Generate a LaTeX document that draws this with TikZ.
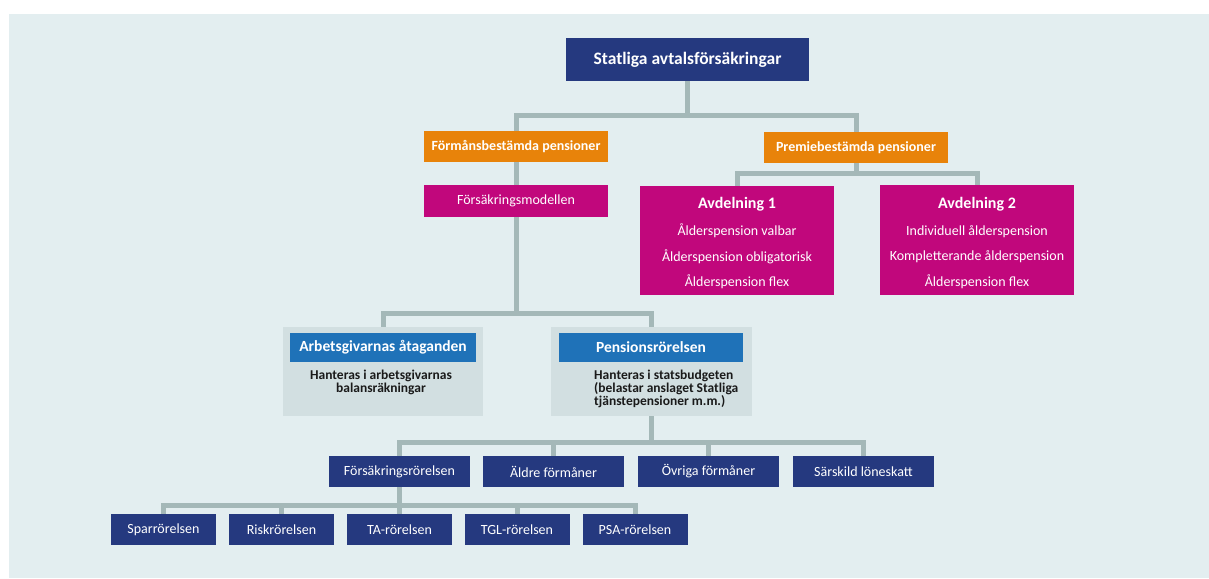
\documentclass[tikz,border=0pt]{standalone}
\usepackage{fontspec}
\setmainfont{Carlito}
\definecolor{cbg}{HTML}{E3EEF0}
\definecolor{cnavy}{HTML}{25397F}
\definecolor{corange}{HTML}{E8830A}
\definecolor{cmag}{HTML}{C1077C}
\definecolor{cblue}{HTML}{1F72B8}
\definecolor{cgray}{HTML}{D2DFE1}
\definecolor{cconn}{HTML}{A4B8B8}
\definecolor{ctext}{HTML}{1A1A1A}
\pgfdeclarelayer{bgl}
\pgfdeclarelayer{lines}
\pgfsetlayers{bgl,lines,main}
\begin{document}
\begin{tikzpicture}[x=1pt,y=-1pt,
  bx/.style 2 args={inner sep=0pt, outer sep=0pt, minimum width=#1pt, minimum height=#2pt, align=center, text=white},
  navybox/.style={fill=cnavy, font=\fontsize{14}{17}\selectfont},
  orangebox/.style={fill=corange, font=\fontsize{14}{17}\selectfont\bfseries},
  magbox/.style={fill=cmag, font=\fontsize{14}{17}\selectfont},
  bluebox/.style={fill=cblue, font=\fontsize{15.5}{18}\selectfont\bfseries},
  graybox/.style={fill=cgray},
  smalltext/.style={inner sep=0pt, text=ctext, font=\fontsize{13.5}{13}\selectfont\bfseries},
  conn/.style={draw=cconn, line width=5pt}]
\useasboundingbox (0,0) rectangle (1209,578);
\begin{pgfonlayer}{bgl}
\fill[cbg] (9,14) rectangle (1209,578);
\end{pgfonlayer}

% level 0
\node[bx={243}{43}, fill=cnavy, font=\fontsize{17.5}{20}\selectfont\bfseries] (top) at (687.5,59.5) {Statliga avtalsförsäkringar};
% level 1
\node[bx={184}{31}, orangebox] (fb) at (516,146.5) {Förmånsbestämda pensioner};
\node[bx={184}{31}, orangebox] (pb) at (856,147.5) {Premiebestämda pensioner};
% level 2
\node[bx={184}{32}, magbox] (fm) at (516,201) {Försäkringsmodellen};
\node[bx={194}{109}, magbox, font=\fontsize{14}{25.5}\selectfont] (avd1) at (737,240.5)
  {{\fontsize{16}{25.5}\selectfont\bfseries\rule{0pt}{17pt}Avdelning 1}\\[1.5pt] Ålderspension valbar\\ Ålderspension obligatorisk\\ Ålderspension flex};
\node[bx={194}{110}, magbox, font=\fontsize{14}{25.5}\selectfont] (avd2) at (977,240)
  {{\fontsize{16}{25.5}\selectfont\bfseries\rule{0pt}{17pt}Avdelning 2}\\[1.5pt] Individuell ålderspension\\ Kompletterande ålderspension\\ Ålderspension flex};
% level 3
\node[bx={200}{89}, graybox] (arbbox) at (383,371.5) {};
\node[bx={186}{29}, bluebox] (arb) at (383,347.5) {Arbetsgivarnas åtaganden};
\node[smalltext, align=center] (arbtxt) at (381,382) {Hanteras i arbetsgivarnas\\balansräkningar};
\node[bx={201}{89}, graybox] (penbox) at (651.5,371.5) {};
\node[bx={184}{29}, bluebox] (pen) at (651,347.5) {Pensionsrörelsen};
\node[smalltext, align=left, anchor=west] (pentxt) at (594,388.5) {Hanteras i statsbudgeten\\(belastar anslaget Statliga\\tjänstepensioner m.m.)};
% level 4
\node[bx={141}{31}, navybox] (fr) at (399.5,471.5) {Försäkringsrörelsen};
\node[bx={141}{31}, navybox] (ald) at (553.5,471.5) {Äldre förmåner};
\node[bx={141}{31}, navybox] (ovr) at (708.5,471.5) {Övriga förmåner};
\node[bx={141}{31}, navybox] (sl) at (863.5,471.5) {Särskild löneskatt};
% level 5
\node[bx={105}{31}, navybox] (spar) at (163.5,529.5) {Sparrörelsen};
\node[bx={105}{31}, navybox] (risk) at (281.5,529.5) {Riskrörelsen};
\node[bx={105}{31}, navybox] (ta) at (399.5,529.5) {TA-rörelsen};
\node[bx={105}{31}, navybox] (tgl) at (517,529.5) {TGL-rörelsen};
\node[bx={105}{31}, navybox] (psa) at (635,529.5) {PSA-rörelsen};

\coordinate (j1) at (687.5,115);
\coordinate (j2) at (856,173);
\coordinate (j3) at (516,313);
\coordinate (j4) at (651.5,442);
\coordinate (j5) at (399.5,505);

\begin{pgfonlayer}{lines}
\draw[conn] (top.south) -- (j1);
\draw[conn] (fb.north) |- (j1) -| (pb.north);
\draw[conn] (pb.south) -- (j2);
\draw[conn] (avd1.north) |- (j2) -| (avd2.north);
\draw[conn] (fb.south) -- (fm.north);
\draw[conn] (fm.south) -- (j3);
\draw[conn] (arbbox.north) |- (j3) -| (penbox.north);
\draw[conn] (penbox.south) -- (j4);
\draw[conn] (fr.north) |- (j4) -| (sl.north);
\draw[conn] (ald.north) -- (ald.north |- j4);
\draw[conn] (ovr.north) -- (ovr.north |- j4);
\draw[conn] (fr.south) -- (ta.north);
\draw[conn] (spar.north) |- (j5) -| (psa.north);
\draw[conn] (risk.north) -- (risk.north |- j5);
\draw[conn] (tgl.north) -- (tgl.north |- j5);
\end{pgfonlayer}
\end{tikzpicture}
\end{document}
